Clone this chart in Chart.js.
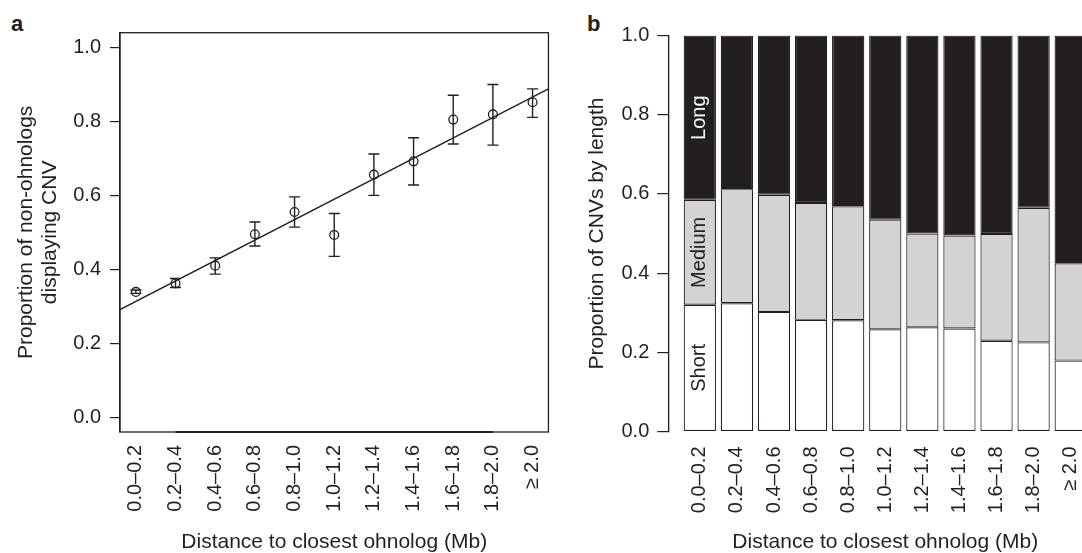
<!DOCTYPE html>
<html>
<head>
<meta charset="utf-8">
<script src="https://cdn.jsdelivr.net/npm/chart.js@4.4.1/dist/chart.umd.min.js"></script>
<style>
html,body{margin:0;padding:0;background:#fff;}
body{width:1082px;height:553px;overflow:hidden;position:relative;}
canvas{position:absolute;top:0;}
#ca{left:0;}
#cb{left:570px;}
.tag{position:absolute;font:bold 22px 'Liberation Sans',Arial,sans-serif;color:#231f20;line-height:1;}
</style>
</head>
<body>
<div class="tag" style="left:11px;top:13px">a</div>
<div class="tag" style="left:587px;top:13px">b</div>
<canvas id="ca" width="570" height="553"></canvas>
<canvas id="cb" width="540" height="553"></canvas>
<script>
// ---------- data ----------
const distanceBins = ['0.0–0.2','0.2–0.4','0.4–0.6','0.6–0.8','0.8–1.0','1.0–1.2','1.2–1.4','1.4–1.6','1.6–1.8','1.8–2.0','≥ 2.0'];
const binIndex = [1,2,3,4,5,6,7,8,9,10,11];

// panel a
const propNonOhnologCNV = [0.339,0.362,0.410,0.495,0.555,0.493,0.656,0.692,0.805,0.819,0.852];
const ciLower = [0.335,0.351,0.387,0.463,0.514,0.435,0.600,0.628,0.739,0.736,0.811];
const ciUpper = [0.344,0.375,0.431,0.528,0.596,0.551,0.712,0.756,0.871,0.900,0.888];
const fitLineX = [0.6, 11.4];
const fitLineY = [0.291, 0.888];
const yTicksA = [0.0,0.2,0.4,0.6,0.8,1.0];

// panel b
const shortShare  = [0.320,0.324,0.302,0.282,0.281,0.258,0.263,0.260,0.229,0.225,0.179];
const mediumShare = [0.265,0.288,0.296,0.295,0.288,0.277,0.237,0.235,0.270,0.340,0.246];
const longShare   = [0.415,0.388,0.402,0.423,0.431,0.465,0.500,0.505,0.501,0.435,0.575];
const segmentNames = ['Short','Medium','Long'];
const yTicksB = [0.0,0.2,0.4,0.6,0.8,1.0];

// ---------- style ----------
const INK = '#231f20';
const GREY = '#d1d3d4';
const FONT = "'Liberation Sans', Arial, Helvetica, sans-serif";
Chart.defaults.font.family = FONT;
Chart.defaults.font.size = 20;
Chart.defaults.color = INK;
Chart.defaults.animation = false;

const errorBars = {
  id: 'errorBars',
  afterDatasetsDraw(chart) {
    const {ctx, scales: {x, y}} = chart;
    ctx.save();
    ctx.strokeStyle = INK;
    ctx.lineWidth = 1.4;
    binIndex.forEach((b, i) => {
      const px = x.getPixelForValue(b);
      const lo = y.getPixelForValue(ciLower[i]);
      const hi = y.getPixelForValue(ciUpper[i]);
      ctx.beginPath();
      ctx.moveTo(px, lo); ctx.lineTo(px, hi);
      ctx.moveTo(px - 5.5, lo); ctx.lineTo(px + 5.5, lo);
      ctx.moveTo(px - 5.5, hi); ctx.lineTo(px + 5.5, hi);
      ctx.stroke();
    });
    ctx.restore();
  }
};

const frameBox = {
  id: 'frameBox',
  afterDraw(chart) {
    const {ctx, chartArea: a, scales: {x}} = chart;
    ctx.save();
    ctx.strokeStyle = INK;
    ctx.lineWidth = 1.3;
    ctx.strokeRect(a.left, a.top, a.right - a.left, a.bottom - a.top);
    ctx.lineWidth = 2.2;
    ctx.beginPath();
    ctx.moveTo(x.getPixelForValue(binIndex[1]), a.bottom);
    ctx.lineTo(x.getPixelForValue(binIndex[binIndex.length - 2]), a.bottom);
    ctx.stroke();
    ctx.restore();
  }
};

const segmentLabelInk = [INK, INK, '#ffffff'];
const barLabels = {
  id: 'barLabels',
  afterDatasetsDraw(chart) {
    const {ctx} = chart;
    ctx.save();
    ctx.font = '20px ' + FONT;
    ctx.textAlign = 'center';
    ctx.textBaseline = 'middle';
    chart.data.datasets.forEach((ds, di) => {
      const el = chart.getDatasetMeta(di).data[0];
      const cy = (el.y + el.base) / 2;
      ctx.save();
      ctx.translate(el.x, cy);
      ctx.rotate(-Math.PI / 2);
      ctx.fillStyle = segmentLabelInk[di];
      ctx.fillText(ds.label, 0, 0);
      ctx.restore();
    });
    ctx.restore();
  }
};

// ---------- panel a ----------
new Chart(document.getElementById('ca'), {
  type: 'scatter',
  data: {
    datasets: [
      {
        label: 'Proportion',
        data: binIndex.map((b, i) => ({x: b, y: propNonOhnologCNV[i]})),
        pointRadius: 4.4,
        pointBorderWidth: 1.3,
        pointBorderColor: INK,
        pointBackgroundColor: 'rgba(0,0,0,0)',
        showLine: false
      },
      {
        type: 'line',
        label: 'Fit',
        data: fitLineX.map((v, i) => ({x: v, y: fitLineY[i]})),
        borderColor: INK,
        borderWidth: 1.4,
        pointRadius: 0,
        fill: false
      }
    ]
  },
  options: {
    responsive: false,
    animation: false,
    layout: {padding: {top: 32.7, right: 11.5, bottom: 0, left: 0}},
    plugins: {legend: {display: false}, tooltip: {enabled: false}},
    scales: {
      x: {
        type: 'linear', min: 0.6, max: 11.4,
        afterFit: s => { s.height = 121; },
        afterBuildTicks: s => { s.ticks = binIndex.map(v => ({value: v})); },
        grid: {display: false, drawTicks: false},
        border: {display: false},
        ticks: {autoSkip: false, minRotation: 90, maxRotation: 90, padding: 13,
                callback: v => distanceBins[Math.round(v) - 1]},
        title: {display: true, text: 'Distance to closest ohnolog (Mb)',
                font: {size: 21, lineHeight: 1}, padding: {top: 0, bottom: 0}}
      },
      y: {
        type: 'linear', min: -0.04, max: 1.04,
        afterFit: s => { s.width = 120; },
        afterBuildTicks: s => { s.ticks = yTicksA.map(v => ({value: v})); },
        grid: {drawOnChartArea: false, drawTicks: true, tickLength: 10, color: INK, lineWidth: 1.2},
        border: {display: true, color: INK, width: 1.3},
        ticks: {padding: 9, callback: v => v.toFixed(1)},
        title: {display: true, text: ['Proportion of non-ohnologs', 'displaying CNV'],
                font: {size: 21, lineHeight: 1.15}, padding: {top: 14, bottom: 0}}
      }
    }
  },
  plugins: [errorBars, frameBox]
});

// ---------- panel b ----------
const shares = [shortShare, mediumShare, longShare];
const fills = ['#ffffff', GREY, INK];
new Chart(document.getElementById('cb'), {
  type: 'bar',
  data: {
    datasets: shares.map((arr, k) => ({
      label: segmentNames[k],
      data: binIndex.map((b, i) => ({x: b, y: arr[i]})),
      backgroundColor: fills[k],
      borderColor: INK,
      borderWidth: 1.2,
      borderSkipped: false,
      categoryPercentage: 1.0,
      barPercentage: 0.87
    }))
  },
  options: {
    responsive: false,
    animation: false,
    layout: {padding: {top: 35.5, right: 4.1, bottom: 0, left: 0}},
    plugins: {legend: {display: false}, tooltip: {enabled: false}},
    scales: {
      x: {
        type: 'linear', stacked: true, offset: false, min: 0.15, max: 11.85,
        afterFit: s => { s.height = 121.5; },
        afterBuildTicks: s => { s.ticks = binIndex.map(v => ({value: v})); },
        grid: {display: false, drawTicks: false},
        border: {display: false},
        ticks: {autoSkip: false, minRotation: 90, maxRotation: 90, padding: 15,
                callback: v => distanceBins[Math.round(v) - 1]},
        title: {display: true, text: 'Distance to closest ohnolog (Mb)',
                font: {size: 21, lineHeight: 1}, padding: {top: 0, bottom: 0}}
      },
      y: {
        type: 'linear', stacked: true, min: 0, max: 1,
        afterFit: s => { s.width = 98.3; },
        afterBuildTicks: s => { s.ticks = yTicksB.map(v => ({value: v})); },
        grid: {drawOnChartArea: false, drawTicks: true, tickLength: 11, color: INK, lineWidth: 1.2},
        border: {display: true, color: INK, width: 1.3},
        ticks: {padding: 8, callback: v => v.toFixed(1)},
        title: {display: true, text: 'Proportion of CNVs by length',
                font: {size: 21, lineHeight: 1.15}, padding: {top: 15, bottom: 0}}
      }
    }
  },
  plugins: [barLabels]
});
</script>
</body>
</html>
